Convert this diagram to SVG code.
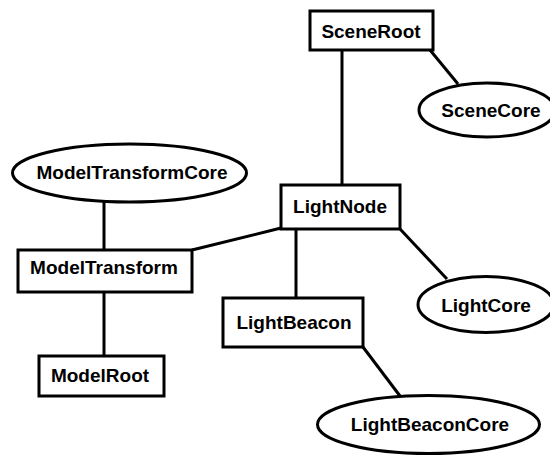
<svg xmlns="http://www.w3.org/2000/svg" width="550" height="456" viewBox="0 0 550 456">
<style>
.box{fill:#fff;stroke:#000;stroke-width:3}
.ell{fill:#fff;stroke:#000;stroke-width:3}
.lbl{font-family:"Liberation Sans",Arial,sans-serif;font-weight:bold;font-size:19px;fill:#000;text-anchor:middle}
.edge{stroke:#000;stroke-width:3;fill:none}
</style>
<rect width="550" height="456" fill="#fff"/>
<g id="connectors">
<line class="edge" x1="342" y1="50" x2="342" y2="185"/>
<line class="edge" x1="430" y1="50" x2="458" y2="84"/>
<line class="edge" x1="400" y1="229" x2="447" y2="279"/>
<line class="edge" x1="296" y1="229" x2="296" y2="298"/>
<line class="edge" x1="281" y1="228" x2="192" y2="250"/>
<line class="edge" x1="104" y1="202" x2="104" y2="250"/>
<line class="edge" x1="104" y1="292" x2="104" y2="356"/>
<line class="edge" x1="363" y1="347" x2="400" y2="396"/>
</g>
<g id="SceneRoot"><rect class="box" x="310" y="11" width="123" height="39"/><text class="lbl" x="371" y="38">SceneRoot</text></g>
<g id="SceneCore"><ellipse class="ell" cx="487" cy="110" rx="68" ry="27"/><text class="lbl" x="491" y="117">SceneCore</text></g>
<g id="ModelTransformCore"><ellipse class="ell" cx="129.5" cy="173" rx="117" ry="29"/><text class="lbl" x="132" y="179">ModelTransformCore</text></g>
<g id="LightNode"><rect class="box" x="281" y="185" width="119" height="44"/><text class="lbl" x="340" y="213">LightNode</text></g>
<g id="ModelTransform"><rect class="box" x="18" y="250" width="174" height="42"/><text class="lbl" x="104" y="274">ModelTransform</text></g>
<g id="LightCore"><ellipse class="ell" cx="486" cy="304.5" rx="68" ry="28"/><text class="lbl" x="486" y="312">LightCore</text></g>
<g id="LightBeacon"><rect class="box" x="223" y="298" width="140" height="49"/><text class="lbl" x="294" y="329">LightBeacon</text></g>
<g id="ModelRoot"><rect class="box" x="39" y="356" width="125" height="40"/><text class="lbl" x="100" y="382">ModelRoot</text></g>
<g id="LightBeaconCore"><ellipse class="ell" cx="428.5" cy="424.5" rx="111" ry="29"/><text class="lbl" x="430" y="431">LightBeaconCore</text></g>
</svg>
